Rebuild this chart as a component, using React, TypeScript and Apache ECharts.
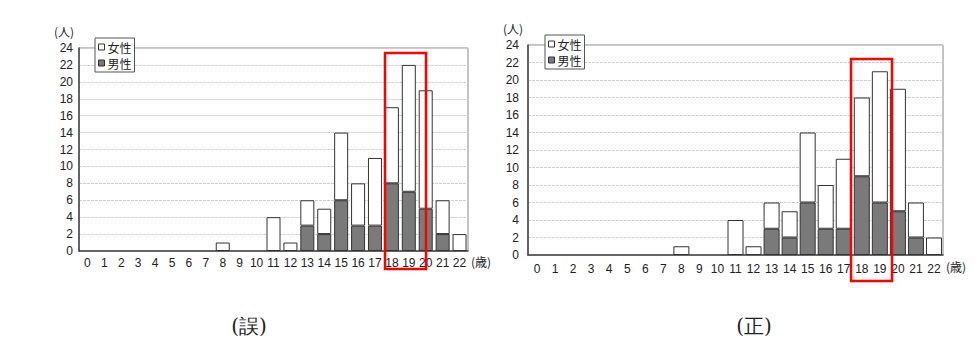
import React, { useEffect, useRef } from "react";
import * as echarts from "echarts";

const ages = ["0","1","2","3","4","5","6","7","8","9","10","11","12","13","14","15","16","17","18","19","20","21","22"];
const wrongMale = [0,0,0,0,0,0,0,0,0,0,0,0,0,3,2,6,3,3,8,7,5,2,0];
const wrongFemale = [0,0,0,0,0,0,0,0,1,0,0,4,1,3,3,8,5,8,9,15,14,4,2];
const correctMale = [0,0,0,0,0,0,0,0,0,0,0,0,0,3,2,6,3,3,9,6,5,2,0];
const correctFemale = [0,0,0,0,0,0,0,0,1,0,0,4,1,3,3,8,5,8,9,15,14,4,2];
const yTicks = [0, 24, 2];
const seriesNames = ["女性", "男性"];
const captions = ["(誤)", "(正)"];
const unitY = "(人)";
const unitX = "(歳)";

const NUM_FONT = "'Liberation Sans Narrow', 'Arial Narrow', 'Liberation Sans', sans-serif";
const CJK_FONT = "'Noto Sans CJK JP', sans-serif";

const femaleStyle = { color: "#ffffff", borderColor: "#333333", borderWidth: 1 };
const maleStyle = { color: "#7a7a7a", borderColor: "#333333", borderWidth: 1 };

const nz = (a: number[]) => a.map((v) => (v === 0 ? null : v));

export default function App() {
  const ref = useRef<HTMLDivElement>(null);
  useEffect(() => {
    if (!ref.current) return;
    const chart = echarts.init(ref.current, null, { renderer: "svg" });
    const grids = [
      { left: 79, top: 48, width: 389, height: 203 },
      { left: 528, top: 45, width: 415, height: 210 },
    ];
    const xAxis = grids.map((_, i) => ({
      type: "category",
      gridIndex: i,
      data: ages,
      axisLine: { show: true, lineStyle: { color: "#444", width: 1.5 } },
      axisTick: { show: false },
      axisLabel: { fontFamily: NUM_FONT, fontSize: 12, color: "#222", margin: i === 0 ? 6 : 8, interval: 0 },
      splitLine: { show: false },
    }));
    const yAxis = grids.map((_, i) => ({
      type: "value",
      gridIndex: i,
      min: yTicks[0],
      max: yTicks[1],
      interval: yTicks[2],
      axisLine: { show: true, lineStyle: { color: "#444", width: 1.5 } },
      axisTick: { show: false },
      axisLabel: { fontFamily: NUM_FONT, fontSize: 12, color: "#222", margin: i === 0 ? 6 : 9 },
      splitLine: { show: true, lineStyle: { color: "#cfcfcf", type: [3, 1], width: 1 } },
    }));
    const makeSeries = (i: number, male: number[], female: number[], bw: number) => [
      { name: seriesNames[1], type: "bar", stack: "s" + i, xAxisIndex: i, yAxisIndex: i, data: nz(male), barWidth: bw, itemStyle: maleStyle },
      { name: seriesNames[0], type: "bar", stack: "s" + i, xAxisIndex: i, yAxisIndex: i, data: nz(female), barWidth: bw, itemStyle: femaleStyle },
    ];
    const legendData = [
      { name: seriesNames[0], itemStyle: femaleStyle },
      { name: seriesNames[1], itemStyle: maleStyle },
    ];
    const legendBase = {
      orient: "vertical",
      data: legendData,
      icon: "rect",
      itemWidth: 6,
      itemHeight: 6,
      itemGap: 4,
      padding: [3, 3, 3, 3],
      backgroundColor: "#fff",
      borderColor: "#555",
      borderWidth: 1,
      selectedMode: false,
      textStyle: { fontFamily: CJK_FONT, fontSize: 12, color: "#222", padding: [0, 0, 0, -2] },
      z: 10,
    };
    const txt = (x: number, y: number, t: string, extra: any = {}) => ({
      type: "text",
      x,
      y,
      style: { text: t, font: `12px ${CJK_FONT}`, fill: "#222", ...extra },
    });
    chart.setOption({
      animation: false,
      backgroundColor: "#ffffff",
      grid: grids.map((g) => ({ ...g, show: true, borderColor: "#888", borderWidth: 1, backgroundColor: "transparent" })),
      xAxis,
      yAxis,
      legend: [
        { ...legendBase, left: 95, top: 38 },
        { ...legendBase, left: 545, top: 35 },
      ],
      series: [
        ...makeSeries(0, wrongMale, wrongFemale, 14),
        ...makeSeries(1, correctMale, correctFemale, 16),
      ],
      graphic: [
        txt(54, 25, unitY),
        txt(503, 22, unitY),
        txt(471, 255, unitX),
        txt(946, 260, unitX),
        { type: "rect", shape: { x: 385, y: 53, width: 41, height: 216 }, style: { fill: "none", stroke: "#ff0000", lineWidth: 2.5 }, z: 20 },
        { type: "rect", shape: { x: 851, y: 59, width: 41, height: 222 }, style: { fill: "none", stroke: "#ff0000", lineWidth: 2.5 }, z: 20 },
        { type: "text", x: 249, y: 326, style: { text: captions[0], font: "20px 'DejaVu Serif', serif", fill: "#222", align: "center", verticalAlign: "middle" } },
        { type: "text", x: 754, y: 326, style: { text: captions[1], font: "20px 'DejaVu Serif', serif", fill: "#222", align: "center", verticalAlign: "middle" } },
      ],
    } as any);
    return () => chart.dispose();
  }, []);
  return (
    <div
      ref={ref}
      style={{ position: "fixed", left: 0, top: 0, width: 977, height: 339, background: "#fff" }}
    />
  );
}
